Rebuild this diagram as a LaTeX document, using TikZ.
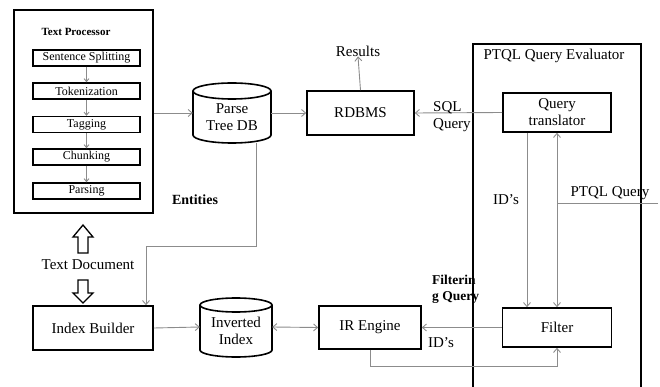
\documentclass[tikz,border=0pt]{standalone}
\usepackage{fontspec}
\setmainfont{Liberation Serif}
\usetikzlibrary{arrows.meta}

\tikzset{
  box/.style={draw=black, line width=1.6pt, rectangle, inner sep=0pt, align=center,
              font=\fontsize{15}{17}\selectfont},
  stage/.style={draw=black, line width=1.4pt, rectangle, inner sep=0pt,
                minimum width=107pt, minimum height=16pt, font=\fontsize{12}{13}\selectfont},
  frame/.style={draw=black, line width=1.6pt},
  conn/.style={draw=black!45, line width=0.9pt},
  arr/.style={conn, -{Straight Barb[length=4pt,width=7pt]}},
  darr/.style={conn, {Straight Barb[length=4pt,width=7pt]}-{Straight Barb[length=4pt,width=7pt]}},
  lbl/.style={inner sep=0pt, font=\fontsize{15}{17}\selectfont},
  blbl/.style={inner sep=0pt, font=\fontsize{14}{16}\selectfont\bfseries},
  dbtext/.style={inner sep=0pt, align=center, font=\fontsize{15}{16.5}\selectfont},
  hollow/.style={draw=black, line width=1.3pt, fill=white, line join=miter}
}

\begin{document}
\begin{tikzpicture}[x=1pt, y=-1pt]
\useasboundingbox (0,0) rectangle (660,387);

% ---- text processor ----
\node[frame, minimum width=139pt, minimum height=203pt, inner sep=0pt] (tp) at (83.5,111.5) {};
\node[inner sep=0pt, font=\fontsize{11}{13}\selectfont\bfseries] (tptitle) at (76,32) {Text Processor};
\node[stage] (s1) at (86.5,58) {Sentence Splitting};
\node[stage] (s2) at (86.5,91) {Tokenization};
\node[stage] (s3) at (86.5,124.5) {Tagging};
\node[stage] (s4) at (86.5,157) {Chunking};
\node[stage] (s5) at (86.5,191) {Parsing};
\foreach \a/\b in {s1/s2, s2/s3, s3/s4, s4/s5}
  \draw[conn, -{Straight Barb[length=3pt,width=5pt]}] (\a.south) -- (\b.north);

% ---- parse tree database ----
\node[minimum width=78pt, minimum height=60pt, inner sep=0pt] (ptdb) at (232,113) {};
\draw[line width=1.6pt] (193,91) -- (193,135) arc[start angle=180, end angle=360, x radius=39pt, y radius=8pt] -- (271,91);
\draw[line width=1.6pt] (232,91) ellipse[x radius=39pt, y radius=8pt];
\node[dbtext] (ptdbtext) at (232,117) {Parse\\Tree DB};

% ---- inverted index ----
\node[minimum width=72pt, minimum height=60pt, inner sep=0pt] (ii) at (236,327) {};
\draw[line width=1.6pt] (200,305) -- (200,350) arc[start angle=180, end angle=360, x radius=36pt, y radius=7pt] -- (272,305);
\draw[line width=1.6pt] (236,305) ellipse[x radius=36pt, y radius=7pt];
\node[dbtext] (iitext) at (236,331) {Inverted\\Index};

% ---- boxes ----
\node[box, minimum width=107pt, minimum height=44pt] (rdbms) at (360.5,113) {RDBMS};
\node[lbl] (results) at (358,51) {Results};
\node[box, minimum width=120pt, minimum height=44pt] (ib) at (93,328) {Index Builder};
\node[box, minimum width=102pt, minimum height=43pt] (ir) at (370,327.5) {IR Engine};

% ---- PTQL query evaluator ----
\draw[frame] (473,387) -- (473,44) -- (641,44) -- (641,387);
\node[lbl] (evtitle) at (554,56) {PTQL Query Evaluator};
\node[box, minimum width=108pt, minimum height=39pt] (qt) at (557,112.5) {Query\\translator};
\node[box, minimum width=109pt, minimum height=39pt] (filter) at (557,327.5) {Filter};

% ---- connectors ----
\draw[arr] (tp.east |- ptdb.west) -- (ptdb.west);
\draw[arr] (ptdb.east) -- (rdbms.west);
\draw[arr] (rdbms.north) -- (results.south);
\draw[arr] (qt.west) -- (rdbms.east);
\node[lbl, anchor=north west, align=left] (sqlq) at (433,101) {SQL\\Query};

\draw[arr] ([xshift=-30pt]qt.south) -- ([xshift=-30pt]filter.north);
\node[lbl] (ids1) at (506,200) {ID's};
\draw[darr] (qt.south) -- (filter.north);
\coordinate (pqend) at (658,203);
\draw[conn] (pqend) -- (qt.south |- pqend);
\node[lbl] (pq) at (610,193) {PTQL Query};

\draw[arr] (filter.west) -- (ir.east);
\node[anchor=north west, align=left, inner sep=0pt, font=\fontsize{13.5}{16}\selectfont\bfseries] (fq) at (432,275) {Filterin\\g Query};

\coordinate (idsy) at (0,366);
\draw[arr] (ir.south) -- (ir.south |- idsy) -| (filter.south);
\node[lbl] (ids2) at (441,343) {ID's};

\draw[darr] (ii.east) -- (ir.west);
\draw[arr] (ib.east) -- (ii.west);

\coordinate (bend) at (146,246);
\draw[arr] ([xshift=24pt]ptdb.south) |- (bend) -- (bend |- ib.north);
\node[blbl] (ent) at (195,200) {Entities};

% ---- text document ----
\node[lbl] (doc) at (88,265) {Text Document};
\draw[hollow] (78,253) -- (78,237) -- (73,237) -- (83,225) -- (93,237) -- (88,237) -- (88,253) -- cycle;
\draw[hollow] (78,280) -- (78,293) -- (73,293) -- (83,303) -- (93,293) -- (88,293) -- (88,280) -- cycle;
\end{tikzpicture}
\end{document}
